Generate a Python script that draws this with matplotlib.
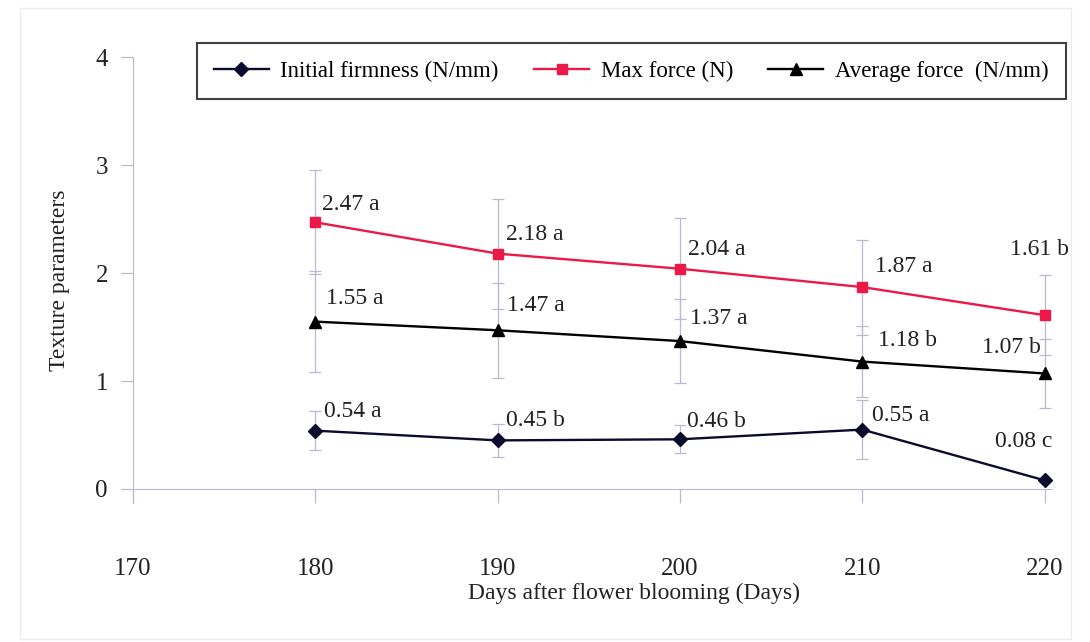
import matplotlib.pyplot as plt
from matplotlib.patches import Rectangle

days = [180, 190, 200, 210, 220]

firmness = [0.54, 0.45, 0.46, 0.55, 0.08]
firmness_err = [0.18, 0.15, 0.13, 0.27, 0.0]
firmness_labels = ["0.54 a", "0.45 b", "0.46 b", "0.55 a", "0.08 c"]

max_force = [2.47, 2.18, 2.04, 1.87, 1.61]
max_force_err = [0.48, 0.51, 0.47, 0.44, 0.37]
max_force_labels = ["2.47 a", "2.18 a", "2.04 a", "1.87 a", "1.61 b"]

avg_force = [1.55, 1.47, 1.37, 1.18, 1.07]
avg_force_err = [0.47, 0.44, 0.39, 0.33, 0.32]
avg_force_labels = ["1.55 a", "1.47 a", "1.37 a", "1.18 b", "1.07 b"]

x_ticks = [170, 180, 190, 200, 210, 220]
y_ticks = [0, 1, 2, 3, 4]

# label offsets in points (dx, dy, horizontal alignment)
firmness_offsets = [(6, 14, "left"), (6, 14, "left"), (5, 13, "left"), (7, 10, "left"), (-15, 28, "center")]
max_force_offsets = [(5, 13, "left"), (6, 14, "left"), (6, 14, "left"), (9, 15, "left"), (-4, 47, "center")]
avg_force_offsets = [(8, 17, "left"), (7, 18, "left"), (7, 16, "left"), (11, 15, "left"), (-3, 19, "right")]

plt.rcParams["font.family"] = ["Liberation Serif", "DejaVu Serif"]

firmness_color = "#0b0b2e"
max_color = "#ec1848"
avg_color = "#000000"
err_color = "#b9b9d2"

fig = plt.figure(figsize=(10.9, 6.42), dpi=100)
fig.patches.append(Rectangle((0.018, 0.005), 0.965, 0.982, transform=fig.transFigure,
                             fill=False, edgecolor="#ececec", linewidth=1.0))
ax = fig.add_axes([0.122, 0.2165, 0.843, 0.6945])

series = [
    (firmness, firmness_err, firmness_color, "D", 7, "Initial firmness (N/mm)", firmness_labels, firmness_offsets),
    (max_force, max_force_err, max_color, "s", 7.5, "Max force (N)", max_force_labels, max_force_offsets),
    (avg_force, avg_force_err, avg_color, "^", 8.5, "Average force  (N/mm)", avg_force_labels, avg_force_offsets),
]

for values, errs, color, marker, msize, name, labels, offsets in series:
    ax.errorbar(days, values, yerr=errs, fmt="none", ecolor=err_color,
                elinewidth=0.9, capsize=4.3, capthick=0.9, zorder=2, clip_on=False)
    ax.plot(days, values, color=color, marker=marker, markersize=msize,
            linewidth=1.7, label=name, zorder=3, clip_on=False)
    for xv, yv, text, (dx, dy, ha) in zip(days, values, labels, offsets):
        ax.annotate(text, (xv, yv), xytext=(dx, dy), textcoords="offset points",
                    ha=ha, va="center", fontsize=17, color="#222222")

ax.set_xlim(170, 220.4)
ax.set_ylim(-0.13, 4)
ax.set_xticks(x_ticks)
ax.set_yticks(y_ticks)

ax.spines["top"].set_visible(False)
ax.spines["right"].set_visible(False)
ax.spines["bottom"].set_position(("data", 0))
ax.spines["bottom"].set_color(err_color)
ax.spines["left"].set_color(err_color)
ax.tick_params(axis="x", direction="out", length=10, width=0.9, color=err_color,
               pad=40, labelsize=18, labelcolor="#222222")
ax.tick_params(axis="y", direction="out", length=9, width=0.9, color=err_color,
               pad=9, labelsize=18, labelcolor="#222222")

ax.set_xlabel("Days after flower blooming (Days)", fontsize=17, color="#222222", labelpad=6)
ax.set_ylabel("Texture parameters", fontsize=17, color="#222222", labelpad=18)
ax.xaxis.set_label_coords(0.545, -0.18)

leg = ax.legend(loc="center", bbox_to_anchor=(0.579, 0.889), bbox_transform=fig.transFigure,
                ncol=3, fontsize=16.5, frameon=True, fancybox=False, edgecolor="#111111",
                handlelength=2.4, handletextpad=0.5, columnspacing=1.55, borderpad=0.75)
leg.get_frame().set_linewidth(1.5)

fig.savefig("out.png", dpi=100)
